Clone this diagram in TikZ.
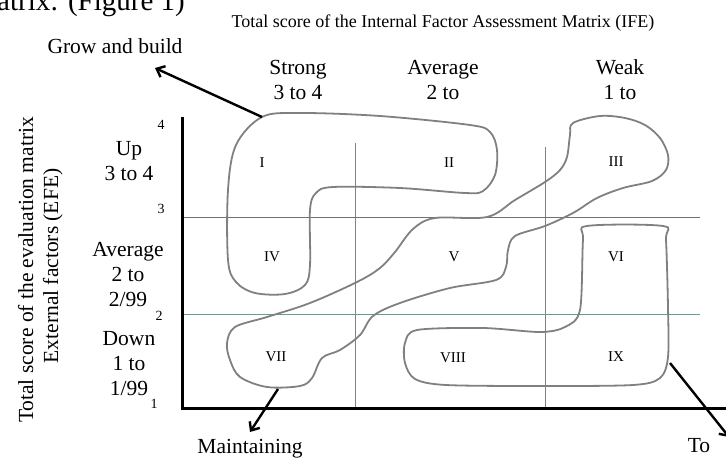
\documentclass[tikz,border=0pt]{standalone}
\usepackage{fontspec}
\setmainfont{Liberation Serif}
\usetikzlibrary{arrows.meta}
\definecolor{blobcolor}{RGB}{128,128,128}
\definecolor{gridblue}{RGB}{85,110,200}
\definecolor{gridgrey}{RGB}{115,128,172}
\definecolor{gridgreen}{RGB}{118,150,140}

\begin{document}
\begin{tikzpicture}[x=1pt, y=-1pt,
    >={Straight Barb[length=7pt, width=12pt]},
    lbl/.style={
        font=\fontsize{21.5}{25}\selectfont,
        align=center, inner sep=0pt, anchor=base
    },
    ttl/.style={font=\fontsize{18}{20}\selectfont, inner sep=0pt, anchor=base},
    cell/.style={font=\fontsize{15}{17}\selectfont, inner sep=0pt},
    tck/.style={font=\fontsize{14}{16}\selectfont, inner sep=0pt},
    blob/.style={draw=blobcolor, line width=1.8pt},
    arr/.style={->, line width=2.4pt}
]
\useasboundingbox (0,0) rectangle (726,464);

% =========================
% TITLES
% =========================
\node[ttl, anchor=base west, font=\fontsize{29}{30}\selectfont] (CAP) at (-3,10) {atrix: (Figure 1)};
\node[ttl] (IFE) at (443,27) {Total score of the Internal Factor Assessment Matrix (IFE)};
\node[lbl, rotate=90] (EFE1) at (33,270) {Total score of the evaluation matrix};
\node[lbl, rotate=90] (EFE2) at (58,266) {External factors (EFE)};

% =========================
% COLUMN / ROW HEADERS
% =========================
% (base = last line)
\node[lbl] (STRONG) at (298,99) {Strong\\3 to 4};
\node[lbl] (AVGC) at (443,99) {Average\\2 to};
\node[lbl] (WEAK) at (620,99) {Weak\\1 to};

\node[lbl] (UP) at (129,180) {Up\\3 to 4};
\node[lbl] (AVGR) at (128,306) {Average\\2 to\\2/99};
\node[lbl] (DOWN) at (129,395) {Down\\1 to\\1/99};

\node[tck] (T4) at (161,125) {4};
\node[tck] (T3) at (161,209) {3};
\node[tck] (T2) at (159,316) {2};
\node[tck] (T1) at (154,404) {1};

% =========================
% GRID AND AXES
% =========================
\draw[gridgrey, line width=1pt] (355,143) -- (355,408);
\draw[gridgrey, line width=1pt] (545,147) -- (545,408);
\draw[gridblue, line width=1pt] (182,217) -- (700,217);
\draw[gridgreen, line width=1pt] (182,314) -- (700,314);

\draw[line width=3pt] (182,117) -- (182,408) -- (726,408);

% =========================
% CELLS
% =========================
\node[cell] (C1) at (262,163) {I};
\node[cell] (C2) at (449,163) {II};
\node[cell] (C3) at (616,162) {III};
\node[cell] (C4) at (272,257) {IV};
\node[cell] (C5) at (454,257) {V};
\node[cell] (C6) at (616,257) {VI};
\node[cell] (C7) at (276,357) {VII};
\node[cell] (C8) at (453,358) {VIII};
\node[cell] (C9) at (616,357) {IX};

% =========================
% STRATEGY REGIONS
% =========================
% grow and build
\draw[blob] plot[smooth cycle, tension=0.55] coordinates {
    (262,117) (300,113) (380,116) (470,125) (490,132) (497,150)
    (495,175) (483,191) (465,193) (400,188) (333,187) (316,193)
    (310,210) (310,265) (305,285) (285,294) (255,293) (236,282)
    (228,260) (228,190) (236,145)};

% hold and maintain
\draw[blob] plot[smooth cycle, tension=0.55] coordinates {
    (573,123) (600,116) (625,118) (645,125) (660,138) (668,155)
    (666,170) (652,181) (623,188) (597,198) (573,213) (545,226)
    (515,236) (508,250) (506,267) (496,280) (450,288) (400,303)
    (373,316) (360,335) (340,350) (322,358) (312,378) (300,386)
    (267,387) (240,377) (230,360) (227,343) (235,327) (267,317)
    (310,303) (357,282) (380,268) (395,252) (413,229) (435,218)
    (487,217) (515,200) (545,182) (560,170) (567,157) (570,135)};

% harvest or divest
\draw[blob] plot[smooth cycle, tension=0.5] coordinates {
    (587,226) (663,226) (666,240) (668,307) (668,357) (660,378)
    (633,385) (540,386) (446,385) (415,379) (405,363) (405,343)
    (417,330) (483,328) (540,332) (565,327) (580,310) (583,240)};

% =========================
% STRATEGY ARROWS
% =========================
\node[lbl] (GROW) at (115,53) {Grow and build};
\node[lbl] (MAINT) at (250,453) {Maintaining};
\node[lbl] (TO) at (699,452) {To};

\coordinate (GROWFROM) at (262,117);
\coordinate (GROWTIP) at (155,68);
\coordinate (MAINTFROM) at (278,389);
\coordinate (MAINTTIP) at (250,432);
\coordinate (TOFROM) at (670,363);
\coordinate (TOTIP) at (729,437);

\draw[arr] (GROWFROM) -- (GROWTIP);
\draw[arr] (MAINTFROM) -- (MAINTTIP);
\draw[arr] (TOFROM) -- (TOTIP);

\end{tikzpicture}
\end{document}
